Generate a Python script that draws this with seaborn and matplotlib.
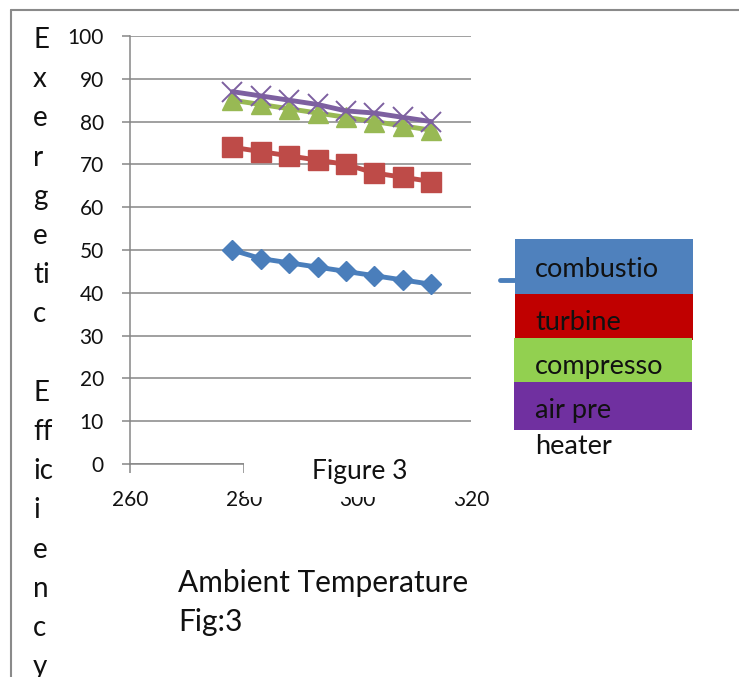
import matplotlib
matplotlib.use("Agg")
import matplotlib.pyplot as plt
from matplotlib.patches import Rectangle
from matplotlib.lines import Line2D
import seaborn as sns
import pandas as pd

# ---- data ----
temperature = [278, 283, 288, 293, 298, 303, 308, 313]
combustion = [50, 48, 47, 46, 45, 44, 43, 42]
turbine = [74, 73, 72, 71, 70, 68, 67, 66]
compressor = [85, 84, 83, 82, 81, 80, 79, 78]
air_preheater = [87, 86, 85, 84, 82.5, 82, 81, 80]
series_names = ["combustio", "turbine", "compresso", "air pre"]
y_ticks = [0, 10, 20, 30, 40, 50, 60, 70, 80, 90, 100]
x_ticks = [260, 280, 300, 320]
ylabel_letters = ["E", "x", "e", "r", "g", "e", "ti", "c", "", "E", "ff", "ic", "i", "e", "n", "c", "y"]

sns.set_theme(style="white")
plt.rcParams["font.family"] = ["Lato", "DejaVu Sans"]

W, H = 739, 677
fig = plt.figure(figsize=(W / 100, H / 100), dpi=100)
fig.patch.set_facecolor("white")

def fx(px):
    return px / W

def fy(py):
    return 1 - py / H

ax_l, ax_r, ax_t, ax_b = 130, 471, 36, 464
ax = fig.add_axes([fx(ax_l), fy(ax_b), fx(ax_r - ax_l), (ax_b - ax_t) / H])
ax.set_facecolor("white")

df = pd.DataFrame({"T": temperature, "combustion": combustion, "turbine": turbine,
                   "compressor": compressor, "air preheater": air_preheater})

styles = [
    ("combustion", "#4A7EBB", "D", 10.5, 1.0),
    ("turbine", "#BE4B48", "s", 14, 1.0),
    ("compressor", "#98B954", "^", 15, 1.0),
    ("air preheater", "#7D60A0", "x", 14, 1.4),
]
for name, col, mk, ms, mew in styles:
    sns.lineplot(data=df, x="T", y=name, ax=ax, color=col, linewidth=3.5,
                 marker=mk, markersize=ms, markeredgecolor=col, markerfacecolor=col,
                 markeredgewidth=mew, legend=False)

grid_col = "#868686"
ax.set_xlim(260, 320)
ax.set_ylim(0, 100)
ax.set_yticks(y_ticks)
ax.set_xticks(x_ticks)
ax.set_yticklabels([str(v) for v in y_ticks], fontsize=15, color="#111111")
ax.set_xticklabels([str(v) for v in x_ticks], fontsize=15, color="#111111")
ax.yaxis.grid(True, color=grid_col, linewidth=1.1)
ax.xaxis.grid(False)
ax.tick_params(axis="y", direction="out", length=5.8, width=1.1, color=grid_col, pad=13, left=True)
ax.tick_params(axis="x", direction="out", length=6.5, width=1.1, color=grid_col, pad=12, bottom=True)
for s in ["top", "right"]:
    ax.spines[s].set_visible(False)
for s in ["left", "bottom"]:
    ax.spines[s].set_color(grid_col)
    ax.spines[s].set_linewidth(1.1)
ax.set_xlabel("")
ax.set_ylabel("")

# white box with "Figure 3" covering part of the x axis
fig.add_artist(Rectangle((fx(244), fy(497)), fx(466 - 244), (497 - 452) / H,
                         transform=fig.transFigure, facecolor="white", edgecolor="none", zorder=5))
fig.add_artist(Rectangle((fx(466), fy(476)), fx(12), (476 - 452) / H,
                         transform=fig.transFigure, facecolor="white", edgecolor="none", zorder=5))
fig.text(fx(360), fy(471), "Figure 3", fontsize=19, ha="center", va="center", color="#111111", zorder=6)

# legend boxes
legend_boxes = [
    (515, 239, 693, 294, "#4F81BD"),
    (515, 294, 693, 340, "#C00000"),
    (514, 338, 692, 382, "#92D050"),
    (514, 382, 692, 430, "#7030A0"),
]
text_baselines = [277, 330, 374, 418]
fig.add_artist(Line2D([fx(500), fx(516)], [fy(280), fy(280)], color="#4A7EBB", linewidth=3.5,
                      solid_capstyle="round", transform=fig.transFigure, zorder=6))
for i, ((x0, y0, x1, y1, col), name) in enumerate(zip(legend_boxes, series_names)):
    z = 7 + 2 * i
    fig.add_artist(Rectangle((fx(x0), fy(y1)), fx(x1 - x0), (y1 - y0) / H,
                             transform=fig.transFigure, facecolor=col, edgecolor="none", zorder=z))
    fig.text(fx(535), fy(text_baselines[i]), name, fontsize=19.5, ha="left", va="baseline",
             color="#111111", zorder=z + 1)
fig.text(fx(535), fy(454), "heater", fontsize=19.5, ha="left", va="baseline", color="#111111", zorder=16)

# vertical stacked y label
for k, letter in enumerate(ylabel_letters):
    if letter:
        fig.text(fx(33), fy(48 + 39.2 * k), letter, fontsize=20, ha="left", va="baseline", color="#111111")

# x label + caption
fig.text(fx(178), fy(592), "Ambient Temperature", fontsize=21.5, ha="left", va="baseline", color="#111111")
fig.text(fx(178), fy(631), "Fig:3", fontsize=21.5, ha="left", va="baseline", color="#111111")

# page border lines
fig.add_artist(Line2D([fx(11), fx(739)], [fy(9.5), fy(9.5)], color="#8a8a8a", linewidth=1.5,
                      transform=fig.transFigure))
fig.add_artist(Line2D([fx(11), fx(11)], [fy(9.5), fy(677)], color="#8a8a8a", linewidth=1.5,
                      transform=fig.transFigure))

fig.savefig("out.png", dpi=100, facecolor="white")
